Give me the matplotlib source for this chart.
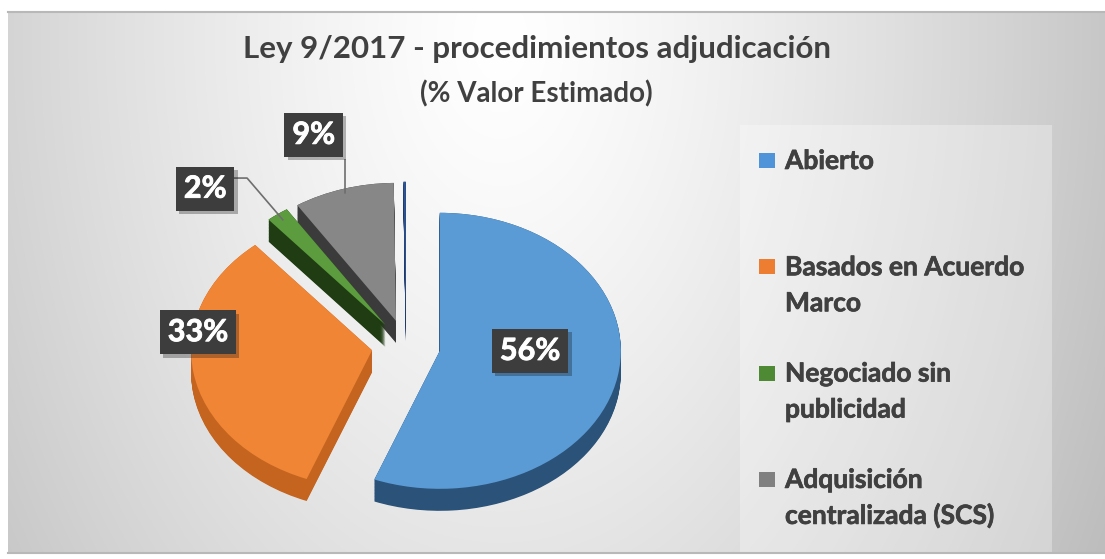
import numpy as np
import matplotlib
matplotlib.use("Agg")
import matplotlib.pyplot as plt
from matplotlib.patches import Rectangle
import matplotlib.patheffects as pe

plt.rcParams['font.family'] = ['Lato', 'DejaVu Sans']

# data
categories = ["Abierto", "Basados en Acuerdo\nMarco", "Negociado sin\npublicidad",
               "Adquisición\ncentralizada (SCS)"]
values = [56, 33, 2, 9, 0.2]      # last one: tiny unlabeled slice at 12 o'clock
pct_labels = ["56%", "33%", "2%", "9%"]
title = "Ley 9/2017 - procedimientos adjudicación"
subtitle = "(% Valor Estimado)"

top_colors = ["#5b9bd5", "#ef8535", "#5c9c3e", "#878787", "#2f5597"]
side_colors = ["#2b5278", "#c4641f", "#1f3c13", "#3b3b3b", "#1f3864"]
legend_colors = ["#4f93d8", "#ed7d31", "#4e8a34", "#808080"]
text_col = "#404040"

W, H = 1105, 559
fig = plt.figure(figsize=(W / 100, H / 100), dpi=100)
fig.patch.set_facecolor("white")

# background axes in pixel coords
bg = fig.add_axes([0, 0, 1, 1])
yy, xx = np.mgrid[12:553, 8:W]
r = np.sqrt(((xx - 500) / 650.0) ** 2 + ((yy - 40) / 1000.0) ** 2)
g = 1 - 0.24 * r ** 1.3
bg.imshow(np.dstack([g, g, g]), extent=(8, W, 553, 12), aspect="auto", interpolation="bilinear")
bg.plot([8, W], [12, 12], color="#b8b8b8", lw=1.5)
bg.plot([8, W], [553, 553], color="#b8b8b8", lw=1.5)
bg.set_xlim(0, W)
bg.set_ylim(H, 0)
bg.axis("off")

bg.text(537, 58, title, ha="center", va="baseline", fontsize=22.5, fontweight="bold", color=text_col)
bg.text(536, 102, subtitle, ha="center", va="baseline", fontsize=20, fontweight="bold", color=text_col)

# legend drawn by hand (marker aligned with first line of each entry)
bg.add_patch(Rectangle((740, 125), 312, 428, fc="white", alpha=0.3, ec="none"))
thick = [pe.withStroke(linewidth=0.5, foreground=text_col)]
for i, (name, col) in enumerate(zip(categories, legend_colors)):
    y = 169 + i * 106.3
    bg.add_patch(Rectangle((759, y - 16), 16, 15, fc=col, ec="none"))
    for j, line in enumerate(name.split("\n")):
        bg.text(785, y + j * 36, line, ha="left", va="baseline", fontsize=19,
                fontweight="bold", color=text_col, path_effects=thick)

# pie axes: 1 data unit = 181 px horizontally, 138 px vertically
pa = fig.add_axes([0, 0, 1, 1])
pa.patch.set_alpha(0)
cx, cy, rx, ry = 406, 346, 181, 138
depth = 22 / ry
explode = [0.19] * len(values)
for d in np.linspace(depth, 0, 30):
    pa.pie(values, colors=side_colors, startangle=90, counterclock=False,
           explode=explode, center=(0, -d), wedgeprops=dict(linewidth=0))
wedges, _ = pa.pie(values, colors=top_colors, startangle=90, counterclock=False,
                   explode=explode, wedgeprops=dict(linewidth=0))
pa.set_aspect("auto")
pa.set_xlim(-cx / rx, (W - cx) / rx)
pa.set_ylim((cy - H) / ry, cy / ry)
pa.axis("off")

# leader lines to the two small slices
def slice_point(w, rad=0.96):
    t = np.deg2rad((w.theta1 + w.theta2) / 2)
    return w.center[0] + rad * np.cos(t), w.center[1] + rad * np.sin(t)

px, py = slice_point(wedges[2], 0.95)
pa.plot([-0.95, -0.878, px], [1.217, 1.217, py], color="#6e6e6e", lw=1.2)
px, py = slice_point(wedges[3], 0.97)
pa.plot([-0.337, px], [1.348, py], color="#6e6e6e", lw=1.2)

# data labels
label_xy = [(0.685, -0.036), (-1.15, 0.10), (-1.11, 1.14), (-0.51, 1.53)]
for (lx, ly), txt in zip(label_xy, pct_labels):
    t = pa.text(lx, ly, txt, ha="center", va="center", fontsize=22, fontweight="bold",
                color="white", bbox=dict(boxstyle="square,pad=0.26", fc="#3d3d3d", ec="none"),
                path_effects=[pe.withStroke(linewidth=0.6, foreground="white")])
    t.get_bbox_patch().set_path_effects([pe.SimplePatchShadow(offset=(2.5, -2.5), alpha=0.3),
                                         pe.Normal()])

fig.savefig("out.png", dpi=100)
